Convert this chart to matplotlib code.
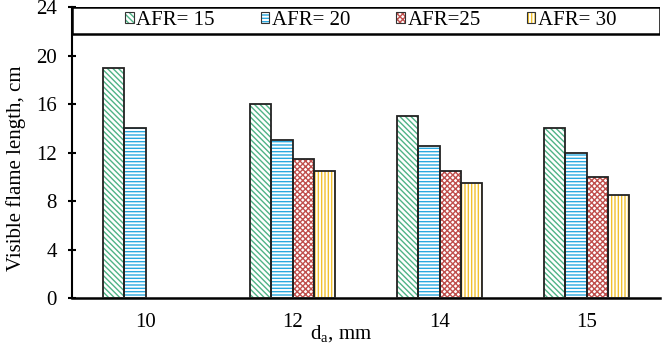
import numpy as np
import matplotlib
matplotlib.use("Agg")
import matplotlib.pyplot as plt
from matplotlib.patches import Patch, Rectangle
from matplotlib.legend_handler import HandlerTuple

plt.rcParams['font.family'] = ['Liberation Serif', 'DejaVu Serif']
plt.rcParams['hatch.linewidth'] = 1.0

# data
categories = ["10", "12", "14", "15"]
series_names = ["AFR= 15", "AFR= 20", "AFR=25", "AFR= 30"]
afr15 = [19, 16, 15, 14]
afr20 = [14, 13, 12.5, 12]
afr25 = [np.nan, 11.5, 10.5, 10]
afr30 = [np.nan, 10.5, 9.5, 8.5]
yticks = [0, 4, 8, 12, 16, 20, 24]

series = [afr15, afr20, afr25, afr30]
hatch_colors = ["#4fb386", "#2aa9e0", "#c0504d", "#f2c12e"]
hatches = ["\\\\\\\\\\\\", "-----", "xxxxxx", "|||||"]

fig = plt.figure(figsize=(6.63, 3.45), dpi=100)
ax = fig.add_axes([0.1086, 0.136, 0.8869, 0.8437])

x = np.arange(len(categories))
width = 0.145
handles = []
for i, vals in enumerate(series):
    pos = x + (i - 1.5) * width
    ax.bar(pos, vals, width, facecolor="white", edgecolor=hatch_colors[i],
           hatch=hatches[i], linewidth=0, zorder=2)
    ax.bar(pos, vals, width, fill=False, edgecolor="#222222", linewidth=1.3, zorder=3)
    h1 = Patch(facecolor="white", edgecolor=hatch_colors[i], hatch=hatches[i], linewidth=0)
    h2 = Patch(fill=False, edgecolor="#333333", linewidth=0.8)
    handles.append((h1, h2))

ax.set_xlim(-0.5, len(categories) - 0.5)
ax.set_ylim(0, 24)
ax.set_yticks(yticks)
ax.set_xticks(x)
ax.set_xticklabels(categories)
ax.tick_params(axis="both", labelsize=15)
ax.tick_params(axis="x", length=0, pad=11)
ax.tick_params(axis="y", direction="inout", length=6, width=1.5, pad=8)

for s in ["top", "right"]:
    ax.spines[s].set_visible(False)
ax.spines["left"].set_linewidth(1.5)
ax.spines["bottom"].set_linewidth(1.8)

ax.set_ylabel("Visible flame length, cm", fontsize=15)
ax.yaxis.set_label_coords(-0.079, 0.447)
ax.set_xlabel("d$_\\mathregular{a}$, mm", fontsize=15)
ax.xaxis.set_label_coords(0.457, -0.09)

# legend box across the top of the plot
box = Rectangle((0, 0.908), 1, 0.092, transform=ax.transAxes, facecolor="white",
                edgecolor="black", linewidth=1.8, zorder=4)
ax.add_patch(box)
leg = ax.legend(handles, series_names, ncol=4, loc="center",
                bbox_to_anchor=(0.508, 0.954), frameon=False,
                fontsize=15, handler_map={tuple: HandlerTuple(ndivide=1, pad=0)},
                handlelength=0.42, handleheight=0.42, handletextpad=0.12,
                columnspacing=2.2, borderaxespad=0)
leg.set_zorder(5)

fig.savefig("out.png", dpi=100)
